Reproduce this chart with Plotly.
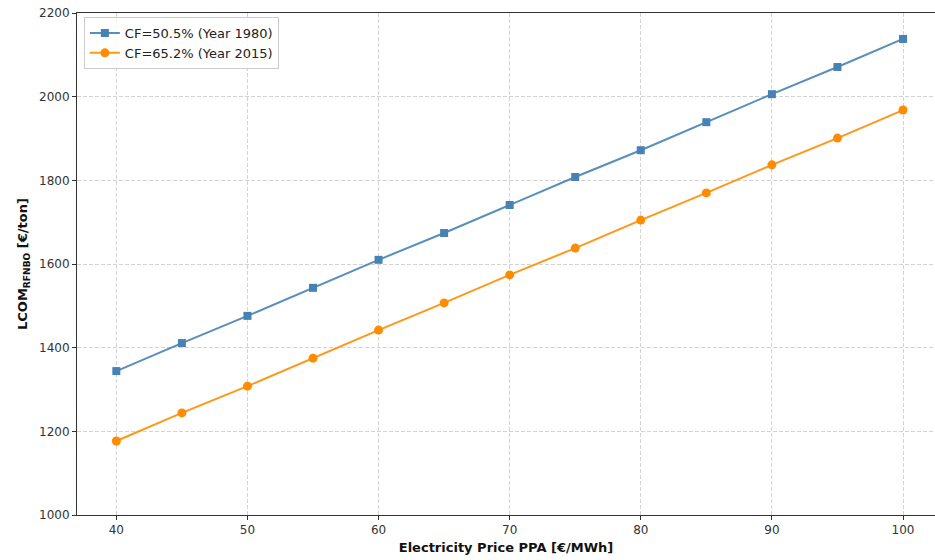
import plotly.graph_objects as go

price = [40, 45, 50, 55, 60, 65, 70, 75, 80, 85, 90, 95, 100]
lcom_1980 = [1344, 1411, 1476, 1543, 1610, 1674, 1741, 1808, 1872, 1939, 2006, 2071, 2138]
lcom_2015 = [1177, 1244, 1308, 1375, 1442, 1507, 1574, 1638, 1705, 1770, 1837, 1901, 1968]
name_1980 = "CF=50.5% (Year 1980)"
name_2015 = "CF=65.2% (Year 2015)"
x_ticks = [40, 50, 60, 70, 80, 90, 100]
y_ticks = [1000, 1200, 1400, 1600, 1800, 2000, 2200]

fig = go.Figure()
fig.add_trace(go.Scatter(x=price, y=lcom_1980, mode="lines+markers", name=name_1980,
                         line=dict(color="rgba(70,130,180,0.9)", width=2),
                         marker=dict(symbol="square", size=8, color="#4682B4")))
fig.add_trace(go.Scatter(x=price, y=lcom_2015, mode="lines+markers", name=name_2015,
                         line=dict(color="rgba(255,140,0,0.9)", width=2),
                         marker=dict(symbol="circle", size=9, color="#FF8C00")))

axis_common = dict(showline=True, linecolor="#333", linewidth=1, ticks="outside",
                   ticklen=4, tickcolor="#333", gridcolor="rgba(200,200,200,0.8)",
                   griddash="4px,2px", gridwidth=1, zeroline=False,
                   tickfont=dict(family="DejaVu Sans", size=12, color="#333"))
fig.update_xaxes(range=[37, 102.44], tickvals=x_ticks, mirror=True,
                 title=dict(text="<b>Electricity Price PPA [€/MWh]</b>", standoff=6,
                            font=dict(family="DejaVu Sans", size=13, color="#111")),
                 **axis_common)
fig.update_yaxes(range=[1000, 2200], tickvals=y_ticks,
                 title=dict(text="<b>LCOM<sub>RFNBO</sub> [€/ton]</b>", standoff=8,
                            font=dict(family="DejaVu Sans", size=13, color="#111")),
                 **axis_common)
fig.update_layout(width=935, height=560, margin=dict(l=77, r=0, t=13, b=45),
                  plot_bgcolor="white", paper_bgcolor="white",
                  font=dict(family="DejaVu Sans", size=12, color="#222"),
                  legend=dict(x=0.008, y=0.992, xanchor="left", yanchor="top",
                              bgcolor="rgba(255,255,255,0.8)", bordercolor="#ccc",
                              borderwidth=1, font=dict(size=13)))
fig.write_html("out.html")
